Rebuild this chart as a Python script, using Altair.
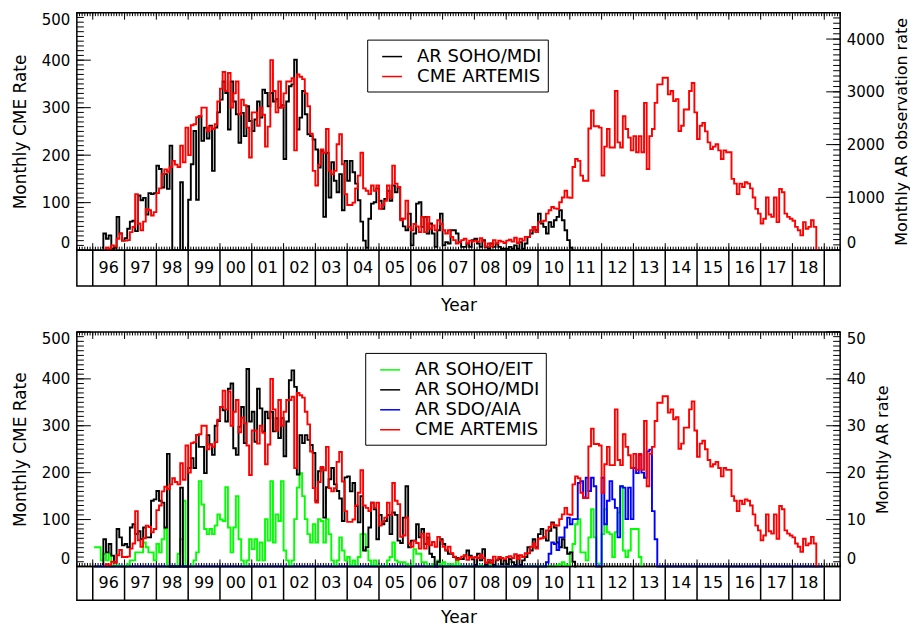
import altair as alt
import pandas as pd

N = None
START = 1996

year_labels = ["96", "97", "98", "99", "00", "01", "02", "03", "04", "05", "06", "07",
               "08", "09", "10", "11", "12", "13", "14", "15", "16", "17", "18"]

# Monthly CME rate (ARTEMIS), Jan 1996 .. Dec 2018
cme_artemis = [
    N, N, N, N, 3, 5, 2, 10, 8, 24, 35, 20,
    20, 21, 38, 49, 118, 56, 42, 60, 87, 84, 73, 80,
    120, 130, 160, 170, 165, 175, 188, 180, 175, 220, 185, 258,
    200, 263, 265, 280, 282, 300, 300, 250, 260, 255, 265, 313,
    340, 375, 335, 373, 300, 330, 355, 286, 317, 305, 258, 195,
    290, 290, 262, 300, 285, 218, 260, 400, 335, 290, 355, 300,
    330, 355, 355, 362, 210, 370, 365, 360, 330, 303, 245, 167,
    136, 180, 212, 205, 255, 167, 160, 167, 223, 244, 181, 118,
    95, 95, 100, 130, 157, 205, 130, 125, 118, 136, 125, 136,
    87, 95, 104, 136, 110, 178, 140, 133, 63, 66, 104, 49,
    42, 55, 50, 38, 70, 38, 70, 45, 52, 42, 63, 55,
    42, 35, 42, 28, 21, 14, 17, 21, 24, 14, 20, 18,
    20, 18, 25, 18, 8, 14, 8, 21, 14, 20, 18, 15,
    20, 22, 18, 26, 15, 24, 20, 28, 28, 42, 49, 38,
    59, 60, 62, 77, 84, 91, 88, 87, 101, 111, 125, 111,
    110, 175, 192, 188, 157, 146, 146, 256, 294, 261, 261, 258,
    157, 218, 255, 216, 216, 335, 227, 216, 282, 255, 237, 210,
    240, 206, 240, 206, 310, 171, 240, 255, 310, 349, 349, 363,
    363, 328, 335, 314, 318, 251, 262, 296, 296, 335, 352, 290,
    234, 262, 268, 250, 227, 213, 218, 223, 210, 192, 210, 206,
    206, 150, 140, 118, 140, 133, 143, 140, 130, 111, 87, 77,
    56, 66, 111, 75, 70, 111, 59, 129, 122, 77, 70, 66,
    62, 49, 42, 31, 59, 45, 49, 63, 49, 0, N, N,
]

# Top panel: AR SOHO/MDI monthly observation rate
ar_mdi_obs = [
    N, N, N, 45, 315, 216, 279, 27, 45, 630, 315, 180,
    225, 405, 540, 558, 360, 1035, 945, 990, 675, 1080, 1062, 1080,
    1602, 1539, 1188, 1440, 1161, 1980, 0, 0, 0, 1287, 0, 0,
    954, 1629, 2259, 954, 2538, 2070, 2322, 2115, 2358, 1503, 2322, 2610,
    2853, 3195, 2979, 2286, 3195, 2817, 2574, 2034, 2601, 2160, 2727, 2448,
    2259, 2475, 2817, 2511, 3042, 2979, 2727, 2979, 2817, 2862, 2700, 2745,
    1728, 2817, 3105, 3141, 3609, 2286, 2511, 3015, 2574, 2196, 2160, 2097,
    1908, 1566, 1881, 630, 1845, 999, 1665, 1314, 1098, 1440, 756, 1692,
    1314, 1692, 1476, 1260, 945, 540, 180, 45, 594, 882, 909, 1170,
    936, 783, 972, 1125, 936, 1224, 1098, 1188, 594, 450, 378, 693,
    90, 315, 882, 909, 441, 630, 315, 504, 315, 63, 378, 693,
    90, 153, 126, 378, 378, 315, 153, 63, 63, 126, 63, 189,
    216, 126, 63, 189, 63, 27, 126, 63, 126, 63, 27, 27,
    27, 63, 27, 90, 27, 153, 27, 126, 252, 315, 441, 378,
    693, 504, 441, 315, 531, 441, 567, 630, 756, 567, 378, 189,
    45, 0, N, N, N, N, N, N, N, N, N, N,
]

# Bottom panel: monthly AR rates
ar_eit = [
    4.1, 4.1, 4.1, 1.3, 2.7, 1.3, 2.7, 0, 0.2, 0.2, 0, 0,
    0, 0.5, 1.3, 1.3, 3.0, 3.0, 3.0, 5.1, 4.1, 3.0, 3.0, 1.3,
    4.8, 3.0, 5.8, 8.0, 0, 0, 0, 0, 2.7, 5.8, 14.0, 0,
    0, 0, 1.3, 3.0, 18.2, 13.2, 8.0, 6.9, 8.0, 6.9, 8.7, 11.1,
    10.0, 9.7, 16.9, 8.3, 3.0, 8.3, 15.0, 5.8, 1.3, 0, 1.3, 5.8,
    3.7, 5.8, 1.3, 5.1, 1.3, 10.1, 5.5, 18.2, 5.1, 11.1, 9.7, 18.2,
    3.4, 1.3, 0, 1.3, 10.1, 16.8, 19.9, 15.0, 10.1, 6.9, 5.1, 9.0,
    5.1, 10.1, 9.7, 5.1, 10.1, 6.9, 1.3, 0, 1.3, 6.2, 3.4, 1.3,
    2.0, 0.2, 1.3, 0.2, 2.0, 6.9, 6.9, 3.4, 1.3, 0.2, 1.3, 0.2,
    0, 0, 0, 1.3, 2.0, 5.1, 1.3, 0.9, 0.9, 0.9, 0.5, 0.2,
    0, 3.7, 2.7, 2.7, 0.9, 0.9, 0, 0, 0.5, 0.2, 1.3, 0.5,
    0.9, 0, 0.5, 0.5, 0.2, 1.3, 0.2, 0, 0, 0, 0, 0,
    0, 0, 0.2, 0, 0, 0, 0.5, 0, 0, 0, 0, 0,
    0, 0, 0, 0, 0, 0, 0, 0, 0, 0, 0, 0,
    0, 0, 0, 0, 0, 0, 0, 0.2, 0.5, 0.9, 0.2, 0.2,
    3.0, 4.8, 9.0, 10.1, 3.0, 3.0, 1.3, 6.2, 12.2, 6.2, 0.6, 0.6,
    6.9, 12.2, 7.3, 6.9, 2.0, 7.3, 11.5, 17.1, 3.4, 2.0, 3.4, 8.0,
    8.0, 8.0, 2.0, 0, N, N, N, N, N, N, N, N,
]

ar_mdi = [
    N, N, N, 0.5, 5.8, 3.0, 4.8, 2.3, 0.9, 8.0, 6.2, 4.5,
    4.8, 4.1, 8.3, 9.0, 6.9, 7.5, 5.8, 8.3, 6.2, 6.2, 14.0, 14.3,
    16.1, 14.0, 13.6, 8.3, 24.0, 0, 0, 0, 0, 16.8, 0, 0,
    21.0, 23.1, 21.0, 28.0, 25.5, 25.5, 19.9, 28.0, 26.0, 23.8, 30.0, 31.0,
    34.0, 33.3, 30.9, 37.9, 39.0, 25.2, 23.8, 29.8, 34.0, 26.3, 42.1, 30.9,
    33.0, 26.6, 37.9, 33.7, 28.8, 33.0, 31.6, 33.0, 28.8, 31.6, 27.4, 31.6,
    23.5, 30.9, 39.7, 41.8, 38.3, 19.6, 28.0, 26.3, 28.0, 27.0, 25.9, 24.2,
    14.0, 20.3, 21.0, 10.4, 16.9, 18.6, 21.0, 17.5, 16.1, 14.5, 9.7, 19.0,
    19.2, 16.0, 17.8, 12.9, 9.4, 15.0, 3.4, 4.1, 8.3, 13.6, 12.2, 5.8,
    11.0, 9.0, 9.7, 11.0, 6.9, 11.5, 11.0, 5.5, 5.0, 10.4, 17.1, 4.1,
    5.5, 5.5, 9.0, 6.2, 8.0, 4.8, 6.2, 2.7, 2.0, 0, 1.0, 5.8,
    4.8, 3.4, 2.7, 2.7, 2.0, 1.8, 1.6, 1.6, 2.3, 3.4, 2.3, 1.5,
    0.3, 2.7, 1.3, 3.7, 0.3, 0.9, 1.3, 0.3, 1.3, 1.6, 0.5, 1.3,
    0.5, 1.6, 0.9, 0.3, 2.3, 0.3, 1.3, 2.0, 4.1, 3.4, 5.8, 4.1,
    6.9, 8.0, 6.2, 5.5, 7.6, 9.4, 8.3, 5.1, 4.1, 5.8, 4.0, 2.7,
    3.0, 1.0, 0, N, N, N, N, N, N, N, N, N,
]

ar_aia = [
    0, 0, 0, 0, 0, 0, 0, 0, 0, 0, 0, 0,
    0, 0, 0, 0, 0, 0, 0, 0, 0, 0, 0, 0,
    0, 0, 0, 0, 0, 0, 0, 0, 0, 0, 0, 0,
    0, 0, 0, 0, 0, 0, 0, 0, 0, 0, 0, 0,
    0, 0, 0, 0, 0, 0, 0, 0, 0, 0, 0, 0,
    0, 0, 0, 0, 0, 0, 0, 0, 0, 0, 0, 0,
    0, 0, 0, 0, 0, 0, 0, 0, 0, 0, 0, 0,
    0, 0, 0, 0, 0, 0, 0, 0, 0, 0, 0, 0,
    0, 0, 0, 0, 0, 0, 0, 0, 0, 0, 0, 0,
    0, 0, 0, 0, 0, 0, 0, 0, 0, 0, 0, 0,
    0, 0, 0, 0, 0, 0, 0, 0, 0, 0, 0, 0,
    0, 0, 0, 0, 0, 0, 0, 0, 0, 0, 0, 0,
    0, 0, 0, 0, 0, 0, 0, 0, 0, 0, 0, 0,
    0, 0, 0, 0, 0, 0, 0, 0, 0, 0, 0, 0,
    0, 0, 0, 0.9, 2.7, 5.1, 4.8, 3.5, 6.2, 6.2, 8.3, 10.4,
    9.0, 10.1, 10.1, 17.8, 18.2, 14.7, 18.9, 16.1, 18.9, 17.1, 0, 0,
    18.9, 9.0, 14.0, 18.2, 14.3, 12.5, 6.2, 17.1, 16.8, 10.1, 16.8, 10.1,
    21.0, 19.9, 23.8, 20.0, 18.9, 24.5, 24.9, 11.8, 5.8, 0, 0, 0,
    0, 0, 0, 0, 0, 0, 0, 0, 0, 0, 0, 0,
    0, 0, 0, 0, 0, 0, 0, 0, 0, 0, 0, 0,
    0, 0, 0, 0, 0, 0, 0, 0, 0, 0, 0, 0,
    0, 0, 0, 0, 0, 0, 0, 0, 0, 0, 0, 0,
    0, 0, 0, 0, 0, 0, 0, 0, 0, 0, 0, 0,
]

FONT = "DejaVu Sans"
W = 765
XS = alt.Scale(domain=[1995.5, 2019.5], nice=False, zero=False)
YS = alt.Scale(domain=[0, 500], nice=False, zero=False)


def monthly(values, name):
    rows = []
    for i, v in enumerate(values):
        if v is None:
            continue
        rows.append({"t": START + (i + 0.5) / 12.0, "v": v, "series": name})
    return pd.DataFrame(rows)


def tick_layers(height, right_minor, right_major):
    layers = []
    x_minor = pd.DataFrame({"xt": [1995.5 + k / 12.0 for k in range(289)]})
    x_major = pd.DataFrame({"xt": [float(y) for y in range(1996, 2020)]})
    for df, L in ((x_minor, 3.5), (x_major, 7)):
        layers.append(alt.Chart(df).mark_rule(color="black", strokeWidth=1).encode(
            x=alt.X("xt:Q", scale=XS, axis=None),
            y=alt.value(height), y2=alt.value(height - L)))
        layers.append(alt.Chart(df).mark_rule(color="black", strokeWidth=1).encode(
            x=alt.X("xt:Q", scale=XS, axis=None),
            y=alt.value(0), y2=alt.value(L)))
    for vals, L in ((list(range(0, 501, 10)), 7), (list(range(0, 501, 100)), 14)):
        layers.append(alt.Chart(pd.DataFrame({"yt": vals})).mark_rule(color="black", strokeWidth=1).encode(
            y=alt.Y("yt:Q", scale=YS, axis=None),
            x=alt.value(0), x2=alt.value(L)))
    for vals, L in ((right_minor, 7), (right_major, 14)):
        layers.append(alt.Chart(pd.DataFrame({"yt": vals})).mark_rule(color="black", strokeWidth=1).encode(
            y=alt.Y("yt:Q", scale=YS, axis=None),
            x=alt.value(W), x2=alt.value(W - L)))
    return layers


def make_legend(lx, ly):
    return alt.Legend(title=None, orient="none", legendX=lx, legendY=ly,
                      symbolType="stroke", symbolSize=400, symbolStrokeWidth=1.5,
                      labelFontSize=18, labelFont=FONT, labelColor="black",
                      strokeColor="black", fillColor="white", padding=6,
                      rowPadding=0, symbolOffset=8, labelOffset=14,
                      cornerRadius=0, labelLimit=400)


def line(df, expr, axis, cscale, legend):
    return alt.Chart(df).transform_calculate(yv=expr).mark_line(
        interpolate="step", strokeWidth=1.9).encode(
        x=alt.X("t:Q", scale=XS, axis=None),
        y=alt.Y("yv:Q", scale=YS, axis=axis),
        color=alt.Color("series:N", scale=cscale, legend=legend))


left_axis = alt.Axis(orient="left", values=[0, 100, 200, 300, 400, 500], ticks=False,
                     domain=False, grid=False, labelPadding=7, labelFontSize=15,
                     labelFlush=True, title="Monthly CME Rate", titleFontSize=17,
                     titleFontWeight="normal", titlePadding=12)


def right_axis(values, label_expr, title):
    return alt.Axis(orient="right", values=values, labelExpr=label_expr, ticks=False,
                    domain=False, grid=False, labelPadding=6, labelFontSize=15,
                    labelFlush=True, title=title, titleFontSize=16,
                    titleFontWeight="normal", titleAngle=270, titleBaseline="top",
                    titlePadding=9)


def boxes(height, title_pad):
    bounds = pd.DataFrame({"xb": [float(y) for y in range(1996, 2020)]})
    labels = pd.DataFrame({"xb": [1996.5 + i for i in range(len(year_labels))], "label": year_labels})
    ax = alt.Axis(title="Year", labels=False, ticks=False, domain=False, grid=False,
                  titleFontSize=17, titleFontWeight="normal", titlePadding=title_pad)
    r = alt.Chart(bounds).mark_rule(color="black", strokeWidth=1.5).encode(
        x=alt.X("xb:Q", scale=XS, axis=ax), y=alt.value(0), y2=alt.value(height))
    t = alt.Chart(labels).mark_text(fontSize=16, font=FONT, color="black",
                                    baseline="middle", align="center").encode(
        x=alt.X("xb:Q", scale=XS, axis=ax), y=alt.value(height / 2.0), text="label:N")
    return alt.layer(r, t).properties(width=W, height=height)


def spacer(height):
    return alt.Chart(pd.DataFrame({"s": [0]})).mark_point(opacity=0).encode(
        x=alt.value(0), y=alt.value(0)
    ).properties(width=W, height=height, view=alt.ViewBackground(stroke="transparent"))


# ---- top panel ----
H1 = 238
top_cs = alt.Scale(domain=["AR SOHO/MDI", "CME ARTEMIS"], range=["#000000", "#ff0000"])
top_leg = make_legend(291, 27)
top_layers = tick_layers(H1, [k * 100 / 9.0 for k in range(46)], [k * 1000 / 9.0 for k in range(5)])
top_layers.append(line(monthly(ar_mdi_obs, "AR SOHO/MDI"), "datum.v / 9",
                       right_axis([k * 1000 / 9.0 for k in range(5)], "format(datum.value * 9, 'd')",
                                  "Monthly AR observation rate"),
                       top_cs, top_leg))
top_layers.append(line(monthly(cme_artemis, "CME ARTEMIS"), "datum.v", left_axis, top_cs, top_leg))
top_plot = alt.layer(*top_layers).resolve_axis(y="independent").properties(width=W, height=H1)

# ---- bottom panel ----
H2 = 235
bot_cs = alt.Scale(domain=["AR SOHO/EIT", "AR SOHO/MDI", "AR SDO/AIA", "CME ARTEMIS"],
                   range=["#00ff00", "#000000", "#0000ff", "#ff0000"])
bot_leg = make_legend(289, 21)
bot_layers = tick_layers(H2, list(range(0, 501, 10)), list(range(0, 501, 100)))
bot_layers.append(line(monthly(ar_eit, "AR SOHO/EIT"), "datum.v * 10",
                       right_axis([0, 100, 200, 300, 400, 500], "format(datum.value / 10, 'd')",
                                  "Monthly AR rate"), bot_cs, bot_leg))
bot_layers.append(line(monthly(ar_mdi, "AR SOHO/MDI"), "datum.v * 10", None, bot_cs, bot_leg))
bot_layers.append(line(monthly(ar_aia, "AR SDO/AIA"), "datum.v * 10", None, bot_cs, bot_leg))
bot_layers.append(line(monthly(cme_artemis, "CME ARTEMIS"), "datum.v", left_axis, bot_cs, bot_leg))
bot_plot = alt.layer(*bot_layers).resolve_axis(y="independent").properties(width=W, height=H2)

chart = (
    alt.vconcat(top_plot, boxes(36, 11), spacer(46), bot_plot, boxes(34, 9),
                spacing=0, bounds="flush")
    .resolve_scale(color="independent")
    .properties(padding={"left": 2, "top": 2, "right": 0, "bottom": 0})
    .configure(font=FONT)
    .configure_view(stroke="black", strokeWidth=1.5)
    .configure_axis(labelColor="black", titleColor="black", labelFont=FONT, titleFont=FONT)
)

chart.save("out.html", embed_options={"renderer": "svg", "actions": False})
